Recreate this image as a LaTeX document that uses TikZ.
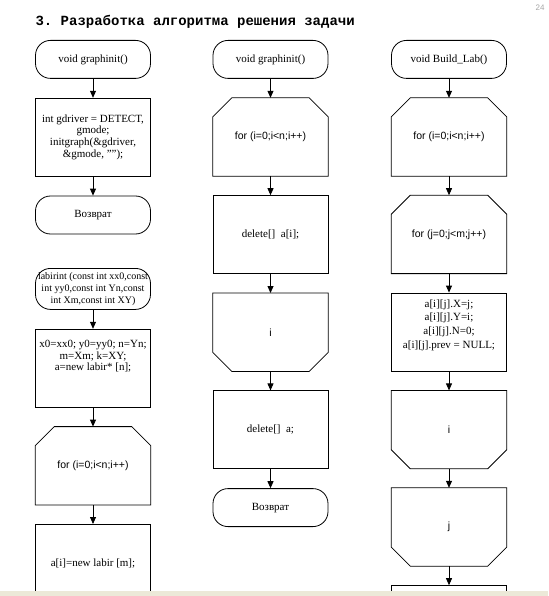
\documentclass[tikz,border=0pt]{standalone}
\usepackage{fontspec}
\setmainfont{Liberation Serif}
\setsansfont{Liberation Sans}
\setmonofont{Liberation Mono}
\usetikzlibrary{arrows.meta,positioning}

\definecolor{pagebar}{RGB}{236,233,216}

\newcommand{\rmtxt}{\fontsize{11}{11.8}\selectfont}
\newcommand{\sftxt}{\sffamily\fontsize{10.5}{11.8}\selectfont}
\newcommand{\labtxt}{\fontsize{10}{12.3}\selectfont}

% loop begin / loop end outlines round a plain node
\newcommand{\looptop}[1]{%
  \draw[blk] ([yshift=-19pt]#1.north west) -- ([xshift=19pt]#1.north west)
    -- ([xshift=-19pt]#1.north east) -- ([yshift=-19pt]#1.north east)
    -- (#1.south east) -- (#1.south west) -- cycle;}
\newcommand{\loopbot}[1]{%
  \draw[blk] (#1.north west) -- (#1.north east)
    -- ([yshift=19pt]#1.south east) -- ([xshift=-19pt]#1.south east)
    -- ([xshift=19pt]#1.south west) -- ([yshift=19pt]#1.south west) -- cycle;}

\begin{document}
\begin{tikzpicture}[x=1pt, y=1pt,
  blk/.style={line width=0.8pt},
  term/.style={draw, blk, rounded corners=15pt, minimum width=115pt,
    minimum height=38pt, inner sep=0pt, align=center, font=\rmtxt},
  proc/.style={draw, blk, minimum width=115pt, minimum height=78pt,
    inner sep=0pt, align=center, font=\rmtxt},
  loopbox/.style={minimum width=115pt, minimum height=78pt, inner sep=0pt,
    align=center, font=\sftxt},
  arr/.style={blk, -{Triangle[width=6pt,length=7pt]}},
  node distance=19pt]

  \useasboundingbox (0,0) rectangle (548,-596);

  %% ===== HEADER =====
  \node[anchor=west, font=\ttfamily\bfseries\fontsize{14}{16}\selectfont]
    (title) at (32,-22) {3. Разработка алгоритма решения задачи};
  \node[anchor=north east, font=\sffamily\fontsize{8}{9}\selectfont,
    text=gray!70] (pageno) at (548,-1) {24};

  %% ===== LEFT COLUMN =====
  \node[term, anchor=north] (init) at (93,-40) {void graphinit()};
  \node[proc, below=of init] (gdrv)
    {int gdriver = DETECT,\\ gmode;\\ initgraph(\&gdriver,\\ \&gmode, "");};
  \node[term, below=of gdrv] (ret1) {Возврат};

  \node[term, anchor=north, minimum height=41pt, font=\labtxt] (lab)
    at (93,-268)
    {labirint (const int xx0,const\\ int yy0,const int Yn,const\\ int Xm,const int XY)};
  \node[proc, below=of lab, label={[font=\rmtxt, align=center,
      yshift=12pt]center:{x0=xx0; y0=yy0; n=Yn;\\ m=Xm; k=XY;\\ a=new labir* [n];}}]
    (setup) {};
  \node[loopbox, below=of setup] (fori1) {for (i=0;i<n;i++)};
  \node[proc, below=of fori1] (newrow) {a[i]=new labir [m];};

  %% ===== MIDDLE COLUMN =====
  \node[term, anchor=north] (free) at (270.5,-40) {void graphinit()};
  \node[loopbox, below=of free] (fori2) {for (i=0;i<n;i++)};
  \node[proc, below=of fori2] (delrow) {delete[]\ \ a[i];};
  \node[loopbox, below=of delrow] (endi2) {i};
  \node[proc, below=of endi2] (delall) {delete[]\ \ a;};
  \node[term, below=of delall] (ret2) {Возврат};

  %% ===== RIGHT COLUMN =====
  \node[term, anchor=north] (build) at (449,-40) {void Build\_Lab()};
  \node[loopbox, below=of build] (fori3) {for (i=0;i<n;i++)};
  \node[loopbox, below=of fori3] (forj3) {for (j=0;j<m;j++)};
  \node[proc, below=of forj3, label={[font=\fontsize{11}{13.6}\selectfont,
      align=center, yshift=7pt]center:{a[i][j].X=j;\\ a[i][j].Y=i;\\ a[i][j].N=0;\\ a[i][j].prev = NULL;}}]
    (cell) {};
  \node[loopbox, below=of cell] (endi3) {i};
  \node[loopbox, below=of endi3] (endj3) {j};
  \node[proc, below=of endj3] (next3) {};

  % loop outlines
  \looptop{fori1}
  \looptop{fori2}
  \loopbot{endi2}
  \looptop{fori3}
  \looptop{forj3}
  \loopbot{endi3}
  \loopbot{endj3}

  % connectors
  \foreach \a/\b in {init/gdrv, gdrv/ret1, lab/setup, setup/fori1,
      fori1/newrow, free/fori2, fori2/delrow, delrow/endi2, endi2/delall,
      delall/ret2, build/fori3, fori3/forj3, forj3/cell, cell/endi3,
      endi3/endj3, endj3/next3}
    \draw[arr] (\a) -- (\b);

  % bottom edge of the page
  \fill[pagebar] (0,-591) rectangle (548,-596);

\end{tikzpicture}
\end{document}
